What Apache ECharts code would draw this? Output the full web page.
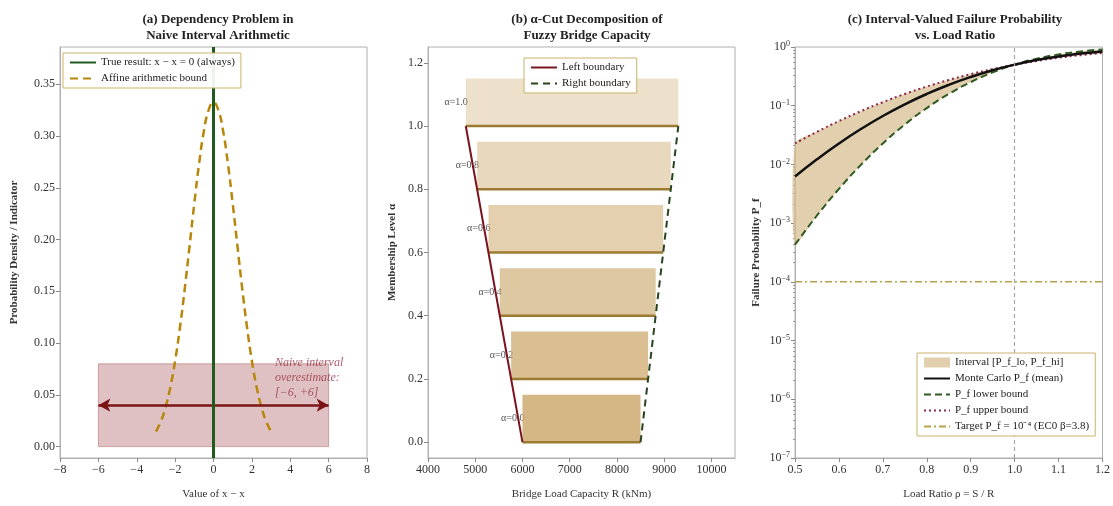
<!DOCTYPE html>
<html>
<head>
<meta charset="utf-8">
<title>Interval arithmetic / fuzzy capacity / failure probability</title>
<script src="https://cdn.jsdelivr.net/npm/echarts@6/dist/echarts.min.js"></script>
<style>
  html, body { margin: 0; padding: 0; background: #fff; }
  #main { width: 1113px; height: 506px; }
</style>
</head>
<body>
<div id="main"></div>
<script>
// ---- (a) dependency problem ----
var affineX = [-3, -2.75, -2.5, -2.25, -2, -1.75, -1.5, -1.25, -1, -0.75, -0.5, -0.25, 0,
               0.25, 0.5, 0.75, 1, 1.25, 1.5, 1.75, 2, 2.25, 2.5, 2.75, 3];
var affineY = [0.0146, 0.0241, 0.0380, 0.0573, 0.0829, 0.1148, 0.1522, 0.1933, 0.2349, 0.2735, 0.3049, 0.3253, 0.3325,
               0.3253, 0.3049, 0.2735, 0.2349, 0.1933, 0.1522, 0.1148, 0.0829, 0.0573, 0.0380, 0.0241, 0.0146];
var trueResult = 0;
var naiveRange = [-6, 6];
var naiveBoxTop = 0.08;
var naiveArrowY = 0.04;

// ---- (b) alpha cuts ----
var alphaLevels = [0, 0.2, 0.4, 0.6, 0.8, 1.0];
var capLeft = [6000, 5760, 5520, 5280, 5040, 4800];
var capRight = [8500, 8660, 8820, 8980, 9140, 9300];
var cutHeight = 0.15;

// ---- (c) failure probability ----
var loadRatio = [0.5, 0.55, 0.6, 0.65, 0.7, 0.75, 0.8, 0.85, 0.9, 0.95, 1.0, 1.05, 1.1, 1.15, 1.2];
var pfMean  = [0.00621, 0.01222, 0.02275, 0.04006, 0.06681, 0.10565, 0.15866, 0.22663, 0.30854, 0.40129, 0.5, 0.59871, 0.69146, 0.77337, 0.84134];
var pfLower = [0.00043, 0.00135, 0.00383, 0.00982, 0.02275, 0.04779, 0.09121, 0.15866, 0.25249, 0.36944, 0.5, 0.63056, 0.74751, 0.84134, 0.90879];
var pfUpper = [0.02275, 0.03593, 0.05480, 0.08076, 0.11507, 0.15866, 0.21186, 0.27425, 0.34458, 0.42074, 0.5, 0.57926, 0.65542, 0.72575, 0.78814];
var pfTarget = 1e-4;
var ratioLimit = 1.0;

var FONT = 'Liberation Serif';
var spine = '#b0b0b0';
var legendBorder = '#c9b46a';

function zip(xs, ys) {
  return xs.map(function (x, i) { return [x, ys[i]]; });
}

function baseAxis(extra) {
  var ax = {
    type: 'value',
    axisLine: { show: true, onZero: false, lineStyle: { color: spine } },
    axisTick: { show: true, length: 4, lineStyle: { color: '#888' } },
    axisLabel: { color: '#333', fontSize: 12, fontFamily: FONT, margin: 5 },
    splitLine: { show: false },
    nameLocation: 'middle',
    nameTextStyle: { color: '#333', fontSize: 11, fontFamily: FONT }
  };
  for (var k in extra) ax[k] = extra[k];
  return ax;
}

function logLabel(v) {
  var e = Math.round(Math.log10(v));
  var s = e < 0 ? '−' + Math.abs(e) : String(e);
  return '{b|10}{s|' + s + '}';
}

function legendBox(names, left, top) {
  return {
    data: names, orient: 'vertical', left: left, top: top,
    itemWidth: 26, itemHeight: 10, itemGap: 5,
    padding: [4, 6], backgroundColor: 'rgba(255,255,255,0.92)', borderColor: legendBorder, borderWidth: 1,
    itemStyle: { opacity: 0 },
    textStyle: { fontFamily: FONT, fontSize: 11, color: '#222' },
    z: 10
  };
}

var chart = echarts.init(document.getElementById('main'));

var option = {
  animation: false,
  backgroundColor: '#fff',
  textStyle: { fontFamily: FONT },
  title: [
    { text: '(a) Dependency Problem in\nNaive Interval Arithmetic', left: 213, top: 7, textAlign: 'center',
      textStyle: { fontFamily: FONT, fontSize: 13, fontWeight: 'bold', color: '#222', lineHeight: 16 } },
    { text: '(b) α-Cut Decomposition of\nFuzzy Bridge Capacity', left: 582, top: 7, textAlign: 'center',
      textStyle: { fontFamily: FONT, fontSize: 13, fontWeight: 'bold', color: '#222', lineHeight: 16 } },
    { text: '(c) Interval-Valued Failure Probability\nvs. Load Ratio', left: 950, top: 7, textAlign: 'center',
      textStyle: { fontFamily: FONT, fontSize: 13, fontWeight: 'bold', color: '#222', lineHeight: 16 } }
  ],
  legend: [
    legendBox(['True result: x − x = 0 (always)', 'Affine arithmetic bound'], 63, 53),
    legendBox(['Left boundary', 'Right boundary'], 524, 58),
    legendBox([
      { name: 'Interval [P_f_lo, P_f_hi]', icon: 'rect', itemStyle: { opacity: 1, color: 'rgba(214,186,140,0.7)' } },
      'Monte Carlo P_f (mean)', 'P_f lower bound', 'P_f upper bound', 'Target P_f = 10⁻⁴ (EC0 β=3.8)'
    ], 917, 353)
  ],
  grid: [
    { left: 60, right: 746, top: 47, bottom: 48, show: true, borderColor: spine, borderWidth: 1 },
    { left: 428, right: 378, top: 47, bottom: 48, show: true, borderColor: spine, borderWidth: 1 },
    { left: 795, right: 9, top: 47, bottom: 48, show: true, borderColor: spine, borderWidth: 1 }
  ],
  xAxis: [
    baseAxis({ gridIndex: 0, min: -8, max: 8, interval: 2, name: 'Value of x − x', nameGap: 31,
      axisLabel: { color: '#333', fontSize: 12, fontFamily: FONT, margin: 6,
        formatter: function (v) { return v < 0 ? '−' + Math.abs(v) : String(v); } } }),
    baseAxis({ gridIndex: 1, min: 4000, max: 10500, interval: 1000, name: 'Bridge Load Capacity R (kNm)', nameGap: 31,
      axisLabel: { color: '#333', fontSize: 12, fontFamily: FONT, margin: 6, showMaxLabel: false,
        formatter: function (v) { return String(v); } } }),
    baseAxis({ gridIndex: 2, min: 0.5, max: 1.2, interval: 0.1, name: 'Load Ratio ρ = S / R', nameGap: 31,
      axisLabel: { color: '#333', fontSize: 12, fontFamily: FONT, margin: 6,
        formatter: function (v) { return v.toFixed(1); } } })
  ],
  yAxis: [
    baseAxis({ gridIndex: 0, min: -0.011, max: 0.386, splitNumber: 8, name: 'Probability Density / Indicator', nameGap: 40,
      nameTextStyle: { color: '#333', fontSize: 11, fontFamily: FONT, fontWeight: 'bold' },
      axisLabel: { color: '#333', fontSize: 12, fontFamily: FONT, margin: 5, showMinLabel: false, showMaxLabel: false,
        formatter: function (v) { return v.toFixed(2); } } }),
    baseAxis({ gridIndex: 1, min: -0.05, max: 1.25, splitNumber: 6, name: 'Membership Level α', nameGap: 30,
      nameTextStyle: { color: '#333', fontSize: 11, fontFamily: FONT, fontWeight: 'bold' },
      axisLabel: { color: '#333', fontSize: 12, fontFamily: FONT, margin: 5, showMinLabel: false, showMaxLabel: false,
        formatter: function (v) { return v.toFixed(1); } } }),
    baseAxis({ gridIndex: 2, type: 'log', logBase: 10, min: 1e-7, max: 1, splitNumber: 7, name: 'Failure Probability P_f', nameGap: 33,
      nameTextStyle: { color: '#333', fontSize: 11, fontFamily: FONT, fontWeight: 'bold' },
      minorTick: { show: true, splitNumber: 8, length: 2, lineStyle: { color: '#999' } },
      axisLabel: { color: '#333', fontFamily: FONT, margin: 5, formatter: logLabel,
        rich: {
          b: { fontSize: 12, fontFamily: FONT, color: '#333', lineHeight: 14, verticalAlign: 'middle' },
          s: { fontSize: 8, fontFamily: FONT, color: '#333', lineHeight: 10, verticalAlign: 'top' }
        } } })
  ],
  series: [
    // ---------- (a) ----------
    {
      name: 'naive box', type: 'line', xAxisIndex: 0, yAxisIndex: 0, data: [], silent: true,
      markArea: {
        silent: true,
        itemStyle: { color: 'rgba(150,50,55,0.3)', borderColor: 'rgba(140,40,45,0.35)', borderWidth: 1 },
        data: [[{ coord: [naiveRange[0], 0] }, { coord: [naiveRange[1], naiveBoxTop] }]]
      },
      markLine: {
        silent: true, symbol: ['arrow', 'arrow'], symbolSize: [10, 12],
        lineStyle: { color: '#7a1414', width: 2.5, type: 'solid' }, label: { show: false },
        data: [[{ coord: [naiveRange[0], naiveArrowY] }, { coord: [naiveRange[1], naiveArrowY] }]]
      },
      z: 1
    },
    {
      name: 'Affine arithmetic bound', type: 'line', xAxisIndex: 0, yAxisIndex: 0,
      data: zip(affineX, affineY), smooth: true, symbol: 'none',
      lineStyle: { color: '#b8860b', width: 2.5, type: [8, 5] }, itemStyle: { color: '#b8860b' }, z: 2
    },
    {
      name: 'True result: x − x = 0 (always)', type: 'line', xAxisIndex: 0, yAxisIndex: 0, data: [],
      symbol: 'none', lineStyle: { color: '#1f5a1f', width: 3 }, itemStyle: { color: '#1f5a1f' },
      markLine: {
        silent: true, symbol: 'none', label: { show: false },
        lineStyle: { color: '#1f5a1f', width: 3, type: 'solid' },
        data: [{ xAxis: trueResult }]
      },
      z: 3
    },
    {
      name: 'naive note', type: 'scatter', xAxisIndex: 0, yAxisIndex: 0, silent: true,
      data: [[3.2, 0.066]], symbolSize: 0,
      label: {
        show: true, position: 'inside', align: 'left', verticalAlign: 'middle',
        formatter: 'Naive interval\noverestimate:\n[−6, +6]',
        fontFamily: FONT, fontStyle: 'italic', fontSize: 12, color: '#9a3345', lineHeight: 15
      },
      z: 5
    },
    // ---------- (b) ----------
    {
      name: 'alpha cuts', type: 'custom', xAxisIndex: 1, yAxisIndex: 1, silent: true,
      encode: { x: [0, 1], y: 2 },
      data: alphaLevels.map(function (a, i) { return [capLeft[i], capRight[i], a]; }),
      renderItem: function (params, api) {
        var l = api.value(0), r = api.value(1), a = api.value(2);
        var pTop = api.coord([l, a + cutHeight]);
        var pBot = api.coord([r, a]);
        var mid = api.coord([l, a + cutHeight / 2]);
        var op = 0.85 - 0.5 * a;
        return {
          type: 'group',
          children: [
            { type: 'text', z2: 0, style: { text: 'α=' + a.toFixed(1), x: pTop[0] + 2, y: mid[1], align: 'right',
              verticalAlign: 'middle', fill: '#555', font: '10px "Liberation Serif"' } },
            { type: 'rect', z2: 1, shape: { x: pTop[0], y: pTop[1], width: pBot[0] - pTop[0], height: pBot[1] - pTop[1] },
              style: { fill: 'rgba(205,170,110,' + op + ')' } },
            { type: 'line', z2: 2, shape: { x1: pTop[0], y1: pBot[1], x2: pBot[0], y2: pBot[1] },
              style: { stroke: '#9b7b32', lineWidth: 2.5 } }
          ]
        };
      },
      z: 1
    },
    {
      name: 'Left boundary', type: 'line', xAxisIndex: 1, yAxisIndex: 1,
      data: zip(capLeft, alphaLevels), symbol: 'none',
      lineStyle: { color: '#7a1420', width: 2 }, itemStyle: { color: '#7a1420' }, z: 3
    },
    {
      name: 'Right boundary', type: 'line', xAxisIndex: 1, yAxisIndex: 1,
      data: zip(capRight, alphaLevels), symbol: 'none',
      lineStyle: { color: '#27441f', width: 2, type: [7, 5] }, itemStyle: { color: '#27441f' }, z: 3
    },
    // ---------- (c) ----------
    {
      name: 'Interval [P_f_lo, P_f_hi]', type: 'custom', xAxisIndex: 2, yAxisIndex: 2, silent: true,
      encode: { x: 0, y: [1, 2] },
      itemStyle: { color: 'rgba(214,186,140,0.7)' },
      data: loadRatio.map(function (r, i) { return [r, pfLower[i], pfUpper[i]]; }),
      renderItem: function (params, api) {
        if (params.dataIndex !== 0) return null;
        var pts = [];
        for (var i = 0; i < loadRatio.length; i++) pts.push(api.coord([loadRatio[i], pfLower[i]]));
        for (var j = loadRatio.length - 1; j >= 0; j--) pts.push(api.coord([loadRatio[j], pfUpper[j]]));
        return { type: 'polygon', shape: { points: pts, smooth: 0.2 }, style: { fill: 'rgba(214,186,140,0.7)' } };
      },
      z: 1
    },
    {
      name: 'Monte Carlo P_f (mean)', type: 'line', xAxisIndex: 2, yAxisIndex: 2,
      data: zip(loadRatio, pfMean), smooth: true, symbol: 'none',
      lineStyle: { color: '#111', width: 2.5 }, itemStyle: { color: '#111' }, z: 4
    },
    {
      name: 'P_f lower bound', type: 'line', xAxisIndex: 2, yAxisIndex: 2,
      data: zip(loadRatio, pfLower), smooth: true, symbol: 'none',
      lineStyle: { color: '#2f5a22', width: 2, type: [7, 4] }, itemStyle: { color: '#2f5a22' }, z: 3
    },
    {
      name: 'P_f upper bound', type: 'line', xAxisIndex: 2, yAxisIndex: 2,
      data: zip(loadRatio, pfUpper), smooth: true, symbol: 'none',
      lineStyle: { color: '#8b2a4a', width: 2, type: [2, 3] }, itemStyle: { color: '#8b2a4a' }, z: 3
    },
    {
      name: 'Target P_f = 10⁻⁴ (EC0 β=3.8)', type: 'line', xAxisIndex: 2, yAxisIndex: 2,
      data: loadRatio.map(function (r) { return [r, pfTarget]; }),
      symbol: 'none', lineStyle: { color: '#b5a24a', width: 1.5, type: [7, 3, 2, 3] }, itemStyle: { color: '#b5a24a' },
      z: 2
    },
    {
      name: 'ratio limit', type: 'line', xAxisIndex: 2, yAxisIndex: 2, data: [], silent: true,
      markLine: {
        silent: true, symbol: 'none', label: { show: false },
        lineStyle: { color: '#aaa', width: 1.2, type: [4, 3] },
        data: [{ xAxis: ratioLimit }]
      },
      z: 2
    }
  ]
};

chart.setOption(option);
</script>
</body>
</html>
